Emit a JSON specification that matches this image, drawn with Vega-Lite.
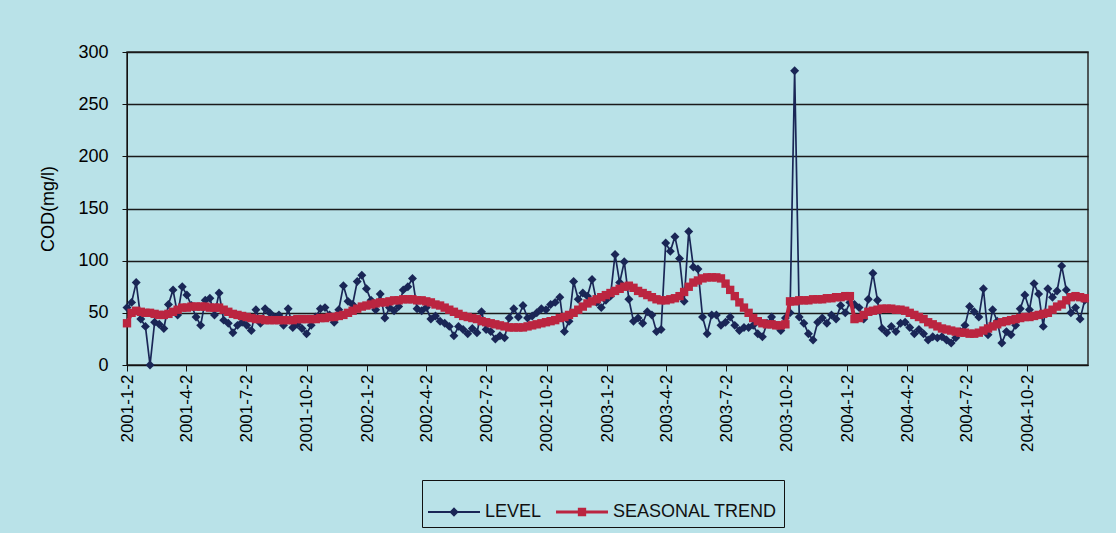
{
"$schema": "https://vega.github.io/schema/vega-lite/v6.json",
"width": 961, "height": 313,
"autosize": {"type": "none"},
"padding": {"left": 127, "top": 52, "right": 28, "bottom": 168},
"background": "#b9e2e8",
"config": {
  "font": "Liberation Sans",
  "view": {"fill": "#b3b4ba", "stroke": "#2a2a2a", "strokeWidth": 1.5},
  "axisX": {"labelFontSize": 17, "labelColor": "#000", "tickColor": "#111", "tickSize": 6, "domainColor": "#111", "labelPadding": 3, "grid": false, "labelFont": "Liberation Sans"},
  "axisY": {"labelFontSize": 18, "titleFontSize": 18, "titleFontWeight": "normal", "titleColor": "#000", "labelColor": "#000", "tickSize": 5, "labelPadding": 14, "titlePadding": 20, "gridColor": "#1a1a1a", "gridWidth": 1.4, "domainColor": "#111", "tickColor": "#111", "labelFont": "Liberation Sans", "titleFont": "Liberation Sans"}
},
"data": {"values": [
{"d":"2001-01-02","level":55,"trend":40},{"d":"2001-01-09","level":60,"trend":50},{"d":"2001-01-16","level":79,"trend":52},{"d":"2001-01-23","level":44,"trend":51},{"d":"2001-01-30","level":37,"trend":50},{"d":"2001-02-06","level":0,"trend":50},{"d":"2001-02-13","level":41,"trend":49},{"d":"2001-02-20","level":39,"trend":48},{"d":"2001-02-27","level":35,"trend":48},{"d":"2001-03-06","level":58,"trend":49},{"d":"2001-03-13","level":72,"trend":51},{"d":"2001-03-20","level":48,"trend":53},{"d":"2001-03-27","level":75,"trend":55},{"d":"2001-04-03","level":67,"trend":55},{"d":"2001-04-10","level":57,"trend":56},{"d":"2001-04-17","level":46,"trend":56},{"d":"2001-04-24","level":38,"trend":56},{"d":"2001-05-01","level":62,"trend":56},{"d":"2001-05-08","level":64,"trend":55},{"d":"2001-05-15","level":48,"trend":55},{"d":"2001-05-22","level":69,"trend":55},{"d":"2001-05-29","level":43,"trend":53},{"d":"2001-06-05","level":40,"trend":51},{"d":"2001-06-12","level":31,"trend":49},{"d":"2001-06-19","level":38,"trend":48},{"d":"2001-06-26","level":41,"trend":47},{"d":"2001-07-03","level":38,"trend":46},{"d":"2001-07-10","level":33,"trend":45},{"d":"2001-07-17","level":53,"trend":44},{"d":"2001-07-24","level":40,"trend":44},{"d":"2001-07-31","level":54,"trend":43},{"d":"2001-08-07","level":50,"trend":43},{"d":"2001-08-14","level":46,"trend":43},{"d":"2001-08-21","level":48,"trend":43},
{"d":"2001-08-28","level":38,"trend":43},{"d":"2001-09-04","level":54,"trend":43},{"d":"2001-09-11","level":36,"trend":43},{"d":"2001-09-18","level":39,"trend":44},{"d":"2001-09-25","level":35,"trend":44},{"d":"2001-10-02","level":30,"trend":44},{"d":"2001-10-09","level":38,"trend":44},{"d":"2001-10-16","level":46,"trend":44},{"d":"2001-10-23","level":54,"trend":45},{"d":"2001-10-30","level":55,"trend":45},{"d":"2001-11-06","level":48,"trend":46},{"d":"2001-11-13","level":41,"trend":46},{"d":"2001-11-20","level":53,"trend":47},{"d":"2001-11-27","level":76,"trend":48},{"d":"2001-12-04","level":61,"trend":50},{"d":"2001-12-11","level":58,"trend":52},{"d":"2001-12-18","level":80,"trend":54},{"d":"2001-12-25","level":86,"trend":56},{"d":"2002-01-01","level":73,"trend":57},{"d":"2002-01-08","level":62,"trend":58},{"d":"2002-01-15","level":53,"trend":59},{"d":"2002-01-22","level":68,"trend":60},{"d":"2002-01-29","level":45,"trend":60},{"d":"2002-02-05","level":55,"trend":61},{"d":"2002-02-12","level":52,"trend":62},{"d":"2002-02-19","level":56,"trend":62},{"d":"2002-02-26","level":72,"trend":63},{"d":"2002-03-05","level":75,"trend":63},{"d":"2002-03-12","level":83,"trend":63},{"d":"2002-03-19","level":54,"trend":62},{"d":"2002-03-26","level":52,"trend":62},{"d":"2002-04-02","level":55,"trend":61},{"d":"2002-04-09","level":44,"trend":60},{"d":"2002-04-16","level":47,"trend":58},
{"d":"2002-04-23","level":42,"trend":57},{"d":"2002-04-30","level":40,"trend":55},{"d":"2002-05-07","level":37,"trend":53},{"d":"2002-05-14","level":28,"trend":51},{"d":"2002-05-21","level":37,"trend":49},{"d":"2002-05-28","level":34,"trend":47},{"d":"2002-06-04","level":30,"trend":46},{"d":"2002-06-11","level":35,"trend":45},{"d":"2002-06-18","level":31,"trend":44},{"d":"2002-06-25","level":51,"trend":42},{"d":"2002-07-02","level":34,"trend":41},{"d":"2002-07-09","level":32,"trend":40},{"d":"2002-07-16","level":25,"trend":39},{"d":"2002-07-23","level":28,"trend":38},{"d":"2002-07-30","level":26,"trend":37},{"d":"2002-08-06","level":45,"trend":36},{"d":"2002-08-13","level":54,"trend":36},{"d":"2002-08-20","level":46,"trend":36},{"d":"2002-08-27","level":57,"trend":36},{"d":"2002-09-03","level":45,"trend":37},{"d":"2002-09-10","level":47,"trend":38},{"d":"2002-09-17","level":50,"trend":39},{"d":"2002-09-24","level":54,"trend":40},{"d":"2002-10-01","level":53,"trend":41},{"d":"2002-10-08","level":58,"trend":42},{"d":"2002-10-15","level":60,"trend":43},{"d":"2002-10-22","level":65,"trend":45},{"d":"2002-10-29","level":32,"trend":46},{"d":"2002-11-05","level":42,"trend":48},{"d":"2002-11-12","level":80,"trend":50},{"d":"2002-11-19","level":63,"trend":53},{"d":"2002-11-26","level":69,"trend":56},{"d":"2002-12-03","level":66,"trend":59},{"d":"2002-12-10","level":82,"trend":61},
{"d":"2002-12-17","level":60,"trend":63},{"d":"2002-12-24","level":55,"trend":65},{"d":"2002-12-31","level":62,"trend":67},{"d":"2003-01-07","level":66,"trend":69},{"d":"2003-01-14","level":106,"trend":71},{"d":"2003-01-21","level":79,"trend":73},{"d":"2003-01-28","level":99,"trend":75},{"d":"2003-02-04","level":63,"trend":76},{"d":"2003-02-11","level":42,"trend":74},{"d":"2003-02-18","level":45,"trend":71},{"d":"2003-02-25","level":40,"trend":69},{"d":"2003-03-04","level":51,"trend":67},{"d":"2003-03-11","level":48,"trend":65},{"d":"2003-03-18","level":32,"trend":63},{"d":"2003-03-25","level":34,"trend":62},{"d":"2003-04-01","level":117,"trend":62},{"d":"2003-04-08","level":109,"trend":63},{"d":"2003-04-15","level":123,"trend":64},{"d":"2003-04-22","level":102,"trend":66},{"d":"2003-04-29","level":61,"trend":70},{"d":"2003-05-06","level":128,"trend":75},{"d":"2003-05-13","level":94,"trend":79},{"d":"2003-05-20","level":92,"trend":81},{"d":"2003-05-27","level":46,"trend":83},{"d":"2003-06-03","level":30,"trend":84},{"d":"2003-06-10","level":48,"trend":84},{"d":"2003-06-17","level":48,"trend":84},{"d":"2003-06-24","level":38,"trend":83},{"d":"2003-07-01","level":41,"trend":78},{"d":"2003-07-08","level":46,"trend":72},{"d":"2003-07-15","level":38,"trend":66},{"d":"2003-07-22","level":33,"trend":60},{"d":"2003-07-29","level":36,"trend":55},{"d":"2003-08-05","level":36,"trend":50},
{"d":"2003-08-12","level":38,"trend":45},{"d":"2003-08-19","level":30,"trend":42},{"d":"2003-08-26","level":27,"trend":40},{"d":"2003-09-02","level":40,"trend":39},{"d":"2003-09-09","level":46,"trend":39},{"d":"2003-09-16","level":38,"trend":38},{"d":"2003-09-23","level":33,"trend":38},{"d":"2003-09-30","level":45,"trend":39},{"d":"2003-10-07","level":50,"trend":61},{"d":"2003-10-14","level":282,"trend":61},{"d":"2003-10-21","level":46,"trend":62},{"d":"2003-10-28","level":40,"trend":62},{"d":"2003-11-04","level":30,"trend":62},{"d":"2003-11-11","level":24,"trend":63},{"d":"2003-11-18","level":41,"trend":63},{"d":"2003-11-25","level":45,"trend":63},{"d":"2003-12-02","level":40,"trend":64},{"d":"2003-12-09","level":48,"trend":64},{"d":"2003-12-16","level":44,"trend":65},{"d":"2003-12-23","level":57,"trend":65},{"d":"2003-12-30","level":50,"trend":66},{"d":"2004-01-06","level":60,"trend":66},{"d":"2004-01-13","level":58,"trend":44},{"d":"2004-01-20","level":55,"trend":45},{"d":"2004-01-27","level":44,"trend":48},{"d":"2004-02-03","level":63,"trend":51},{"d":"2004-02-10","level":88,"trend":52},{"d":"2004-02-17","level":62,"trend":53},{"d":"2004-02-24","level":35,"trend":54},{"d":"2004-03-02","level":31,"trend":54},{"d":"2004-03-09","level":37,"trend":54},{"d":"2004-03-16","level":32,"trend":53},{"d":"2004-03-23","level":40,"trend":53},{"d":"2004-03-30","level":41,"trend":52},{"d":"2004-04-06","level":36,"trend":50},{"d":"2004-04-13","level":30,"trend":48},
{"d":"2004-04-20","level":34,"trend":46},{"d":"2004-04-27","level":30,"trend":44},{"d":"2004-05-04","level":24,"trend":41},{"d":"2004-05-11","level":27,"trend":39},{"d":"2004-05-18","level":26,"trend":37},{"d":"2004-05-25","level":27,"trend":35},{"d":"2004-06-01","level":24,"trend":34},{"d":"2004-06-08","level":21,"trend":33},{"d":"2004-06-15","level":26,"trend":32},{"d":"2004-06-22","level":32,"trend":31},{"d":"2004-06-29","level":38,"trend":31},{"d":"2004-07-06","level":56,"trend":30},{"d":"2004-07-13","level":51,"trend":30},{"d":"2004-07-20","level":46,"trend":31},{"d":"2004-07-27","level":73,"trend":33},{"d":"2004-08-03","level":29,"trend":35},{"d":"2004-08-10","level":53,"trend":37},{"d":"2004-08-17","level":42,"trend":39},{"d":"2004-08-24","level":21,"trend":41},{"d":"2004-08-31","level":32,"trend":42},{"d":"2004-09-07","level":29,"trend":43},{"d":"2004-09-14","level":38,"trend":44},{"d":"2004-09-21","level":54,"trend":45},{"d":"2004-09-28","level":67,"trend":46},{"d":"2004-10-05","level":53,"trend":46},{"d":"2004-10-12","level":78,"trend":47},{"d":"2004-10-19","level":68,"trend":48},{"d":"2004-10-26","level":37,"trend":49},{"d":"2004-11-02","level":73,"trend":50},{"d":"2004-11-09","level":65,"trend":53},{"d":"2004-11-16","level":71,"trend":56},{"d":"2004-11-23","level":95,"trend":58},{"d":"2004-11-30","level":72,"trend":62},{"d":"2004-12-07","level":50,"trend":65},{"d":"2004-12-14","level":55,"trend":66},{"d":"2004-12-21","level":44,"trend":65},{"d":"2004-12-28","level":62,"trend":64}
]},
"layer": [
  {"mark": {"type": "line", "color": "#1a2656", "strokeWidth": 1.7},
   "encoding": {
     "x": {"field": "d", "type": "temporal", "title": null,
       "scale": {"type": "utc", "domain": [{"year": 2001, "month": 1, "date": 2, "utc": true}, {"year": 2005, "month": 1, "date": 2, "utc": true}]},
       "axis": {"labelExpr": "utcFormat(datum.value, '%Y-%-m-%-d')", "labelAngle": -90,
         "values": [{"year":2001,"month":1,"date":2,"utc":true},{"year":2001,"month":4,"date":2,"utc":true},{"year":2001,"month":7,"date":2,"utc":true},{"year":2001,"month":10,"date":2,"utc":true},{"year":2002,"month":1,"date":2,"utc":true},{"year":2002,"month":4,"date":2,"utc":true},{"year":2002,"month":7,"date":2,"utc":true},{"year":2002,"month":10,"date":2,"utc":true},{"year":2003,"month":1,"date":2,"utc":true},{"year":2003,"month":4,"date":2,"utc":true},{"year":2003,"month":7,"date":2,"utc":true},{"year":2003,"month":10,"date":2,"utc":true},{"year":2004,"month":1,"date":2,"utc":true},{"year":2004,"month":4,"date":2,"utc":true},{"year":2004,"month":7,"date":2,"utc":true},{"year":2004,"month":10,"date":2,"utc":true}]}},
     "y": {"field": "level", "type": "quantitative", "title": "COD(mg/l)", "scale": {"domain": [0, 300]},
       "axis": {"values": [0, 50, 100, 150, 200, 250, 300], "grid": true}}
   }},
  {"mark": {"type": "point", "shape": "diamond", "filled": true, "color": "#1a2656", "size": 80, "opacity": 1},
   "encoding": {
     "x": {"field": "d", "type": "temporal"},
     "y": {"field": "level", "type": "quantitative", "title": "COD(mg/l)"}
   }},
  {"mark": {"type": "line", "color": "#bb2540", "strokeWidth": 4},
   "encoding": {
     "x": {"field": "d", "type": "temporal"},
     "y": {"field": "trend", "type": "quantitative", "title": "COD(mg/l)"}
   }},
  {"mark": {"type": "point", "shape": "square", "filled": true, "color": "#bb2540", "size": 70, "opacity": 1},
   "encoding": {
     "x": {"field": "d", "type": "temporal"},
     "y": {"field": "trend", "type": "quantitative", "title": "COD(mg/l)"}
   }},
  {"data": {"values": [{"series": "LEVEL"}, {"series": "SEASONAL TREND"}]},
   "transform": [{"filter": "false"}],
   "mark": {"type": "point", "filled": true, "strokeWidth": 0},
   "encoding": {
     "color": {"field": "series", "type": "nominal",
       "scale": {"domain": ["LEVEL", "SEASONAL TREND"], "range": ["#1a2656", "#bb2540"]},
       "legend": {"title": null, "orient": "none", "legendX": 295, "legendY": 428, "direction": "horizontal", "labelFontSize": 18, "labelColor": "#111", "labelFont": "Liberation Sans", "labelLimit": 400, "symbolSize": 2700, "symbolOpacity": 1, "symbolStrokeWidth": 0, "strokeColor": "#111", "padding": 6, "labelOffset": 5, "columnPadding": 14}},
     "shape": {"field": "series", "type": "nominal",
       "scale": {"domain": ["LEVEL", "SEASONAL TREND"], "range": ["M-1,-0.04L1,-0.04L1,0.04L-1,0.04Z M0,-0.18L0.18,0L0,0.18L-0.18,0Z", "M-1,-0.06L1,-0.06L1,0.06L-1,0.06Z M-0.16,-0.16L0.16,-0.16L0.16,0.16L-0.16,0.16Z"]},
       "legend": {"title": null, "orient": "none", "legendX": 295, "legendY": 428, "direction": "horizontal", "labelFontSize": 18, "labelColor": "#111", "labelFont": "Liberation Sans", "labelLimit": 400, "symbolSize": 2700, "symbolOpacity": 1, "symbolStrokeWidth": 0, "strokeColor": "#111", "padding": 6, "labelOffset": 5, "columnPadding": 14}}
   }}
]
}
